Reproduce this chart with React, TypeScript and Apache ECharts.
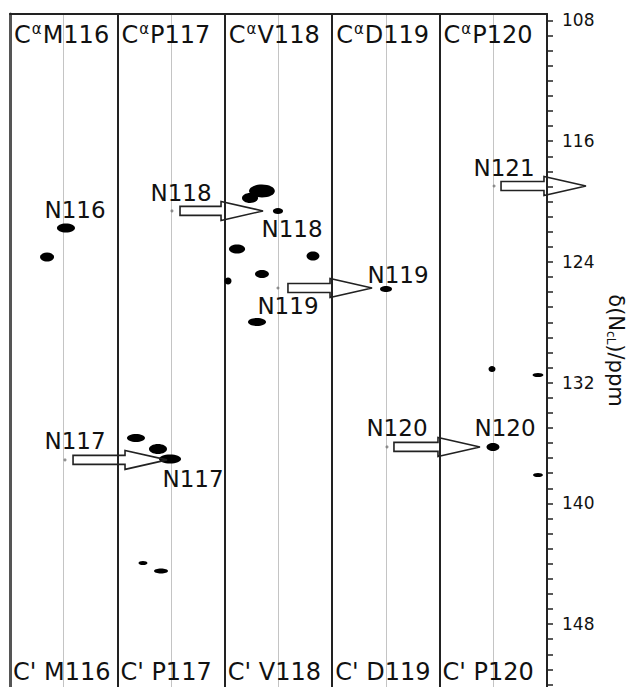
import React, { useEffect, useRef } from "react";
import * as echarts from "echarts";

// Strip residues (top: Cα planes, bottom: C' planes)
const residues = ["M116", "P117", "V118", "D119", "P120"];

// 15N axis tick marks and labels (ppm)
const yTickLabels = [108, 116, 124, 132, 140, 148];
const yTicks = [
  108, 109, 110, 111, 112, 113, 114, 115, 116, 117, 118, 119, 120, 121, 122, 123,
  124, 125, 126, 127, 128, 129, 130, 131, 132, 133, 134, 135, 136, 137, 138, 139,
  140, 141, 142, 143, 144, 145, 146, 147, 148, 149, 150, 151, 152,
];

// Cross peaks: position across the strips (strip i spans i..i+1), 15N shift (ppm),
// width across the strip (strip units), 15N linewidth (ppm)
const peakX = [0.521, 0.345, 2.235, 2.346, 2.495, 2.114, 2.821, 2.346, 2.03, 2.3, 1.173, 1.378, 1.49, 1.238, 1.406, 3.501, 4.488, 4.916, 4.497, 4.916];
const peakN = [121.75, 123.67, 119.76, 119.3, 120.62, 123.14, 123.61, 124.8, 125.26, 127.98, 135.67, 136.4, 137.06, 143.95, 144.48, 125.79, 131.09, 131.49, 136.26, 138.12];
const peakWX = [0.168, 0.13, 0.15, 0.24, 0.095, 0.15, 0.12, 0.13, 0.065, 0.168, 0.168, 0.168, 0.205, 0.084, 0.13, 0.112, 0.065, 0.102, 0.121, 0.093];
const peakWN = [0.6, 0.6, 0.66, 0.86, 0.4, 0.6, 0.6, 0.53, 0.46, 0.53, 0.53, 0.66, 0.6, 0.27, 0.33, 0.4, 0.4, 0.27, 0.53, 0.27];

// Sequential-walk origins (grey dots) and arrows
const originX = [0.512, 1.508, 2.495, 3.51, 4.507];
const originN = [137.12, 120.62, 125.73, 136.26, 118.97];
const arrowFromX = [0.587, 1.583, 2.588, 3.575, 4.572];
const arrowToX = [1.462, 2.356, 3.371, 4.376, 5.363];
const arrowN = [137.12, 120.62, 125.73, 136.26, 118.97];

// Assignment labels
const labelText = ["N116", "N118", "N118", "N119", "N119", "N121", "N117", "N117", "N120", "N120"];
const labelX = [0.605, 1.592, 2.626, 2.588, 3.613, 4.6, 0.605, 1.704, 3.603, 4.609];
const labelN = [120.56, 119.43, 121.82, 126.92, 124.87, 117.77, 135.87, 138.38, 135.01, 135.01];

const FONT = "DejaVu Sans";
const INK = "#111111";

export default function App() {
  const ref = useRef<HTMLDivElement>(null);

  useEffect(() => {
    const chart = echarts.init(ref.current as HTMLDivElement, null, { renderer: "svg" });
    const yMin = 107.57;
    const yMax = 152.17;

    chart.setOption({
      animation: false,
      backgroundColor: "#ffffff",
      grid: {
        left: 10,
        right: 81,
        top: 14,
        bottom: 0,
        containLabel: false,
        outerBoundsMode: "none",
      },
      xAxis: [
        {
          type: "value",
          min: 0,
          max: 5,
          interval: 1,
          position: "bottom",
          axisLine: { show: false, onZero: false },
          axisTick: { show: false },
          axisLabel: {
            inside: true,
            align: "left",
            margin: 3,
            padding: [0, 0, 0, 3],
            fontSize: 24,
            fontFamily: FONT,
            color: INK,
            formatter: (v: number) => (v < 5 ? `C' ${residues[Math.round(v)]}` : ""),
          },
          splitLine: { show: true, lineStyle: { color: "#222", width: 2 } },
          minorTick: { show: false, splitNumber: 2 },
          minorSplitLine: { show: true, lineStyle: { color: "#c4c4c4", width: 1 } },
        },
        {
          type: "value",
          min: 0,
          max: 5,
          interval: 1,
          position: "top",
          axisLine: { show: true, onZero: false, lineStyle: { color: "#222", width: 2 } },
          axisTick: { show: false },
          splitLine: { show: false },
          axisLabel: {
            inside: true,
            align: "left",
            margin: 7,
            padding: [0, 0, 0, 4],
            fontSize: 24,
            fontFamily: FONT,
            color: INK,
            formatter: (v: number) => (v < 5 ? `C{a|α}${residues[Math.round(v)]}` : ""),
            rich: {
              a: { fontSize: 15, fontFamily: FONT, color: INK, padding: [0, 1, 13, 1] },
            },
          },
        },
      ],
      yAxis: [
        {
          type: "value",
          position: "right",
          inverse: true,
          min: yMin,
          max: yMax,
          axisLine: { show: true, onZero: false, lineStyle: { color: "#222", width: 2 } },
          axisTick: {
            show: true,
            inside: false,
            length: 6,
            customValues: yTicks,
            lineStyle: { color: "#222", width: 1.5 },
          },
          axisLabel: {
            customValues: yTickLabels,
            margin: 15,
            fontSize: 17,
            fontFamily: FONT,
            color: INK,
          },
          splitLine: { show: false },
          name: "δ(N{s|cL})/ppm",
          nameLocation: "middle",
          nameRotate: -90,
          nameGap: 56,
          nameTextStyle: {
            fontSize: 21,
            fontFamily: FONT,
            color: INK,
            rich: { s: { fontSize: 12, fontFamily: FONT, color: INK, padding: [9, 0, 0, 0] } },
          },
        },
        {
          type: "value",
          position: "left",
          inverse: true,
          min: yMin,
          max: yMax,
          axisLine: { show: true, onZero: false, lineStyle: { color: "#555", width: 3 } },
          axisTick: { show: false },
          axisLabel: { show: false },
          splitLine: { show: false },
        },
      ],
      series: [
        {
          type: "custom",
          name: "peaks",
          xAxisIndex: 0,
          yAxisIndex: 0,
          z: 3,
          data: peakX.map((x, i) => [x, peakN[i], peakWX[i], peakWN[i]]),
          renderItem: (_p: any, api: any) => {
            const c = api.coord([api.value(0), api.value(1)]);
            const s = api.size([api.value(2), api.value(3)]);
            return {
              type: "ellipse",
              shape: { cx: c[0], cy: c[1], rx: Math.abs(s[0]) / 2, ry: Math.abs(s[1]) / 2 },
              style: { fill: "#000" },
            };
          },
        },
        {
          type: "custom",
          name: "arrows",
          xAxisIndex: 0,
          yAxisIndex: 0,
          z: 4,
          clip: false,
          data: arrowFromX.map((x, i) => [x, arrowToX[i], arrowN[i]]),
          renderItem: (_p: any, api: any) => {
            const t = api.coord([api.value(0), api.value(2)]);
            const p = api.coord([api.value(1), api.value(2)]);
            const y = t[1];
            const base = p[0] - 42;
            const sh = 4.5;
            const hh = 9.5;
            return {
              type: "polygon",
              shape: {
                points: [
                  [t[0], y - sh],
                  [base, y - sh],
                  [base, y - hh],
                  [p[0], y],
                  [base, y + hh],
                  [base, y + sh],
                  [t[0], y + sh],
                ],
              },
              style: { fill: "rgba(255,255,255,0)", stroke: "#222", lineWidth: 1.6 },
            };
          },
        },
        {
          type: "scatter",
          name: "origins",
          xAxisIndex: 0,
          yAxisIndex: 0,
          symbolSize: 3,
          itemStyle: { color: "#777" },
          z: 3,
          data: originX.map((x, i) => [x, originN[i]]),
        },
        {
          type: "custom",
          name: "labels",
          xAxisIndex: 0,
          yAxisIndex: 0,
          z: 5,
          clip: false,
          data: labelX.map((x, i) => [x, labelN[i], i]),
          renderItem: (_p: any, api: any) => {
            const c = api.coord([api.value(0), api.value(1)]);
            return {
              type: "text",
              x: c[0],
              y: c[1],
              style: {
                text: labelText[api.value(2)],
                fill: INK,
                fontSize: 23,
                fontFamily: FONT,
                align: "center",
                verticalAlign: "middle",
              },
            };
          },
        },
      ],
    });

    return () => chart.dispose();
  }, []);

  return (
    <div
      ref={ref}
      style={{ position: "fixed", left: 0, top: 0, width: 628, height: 687, background: "#fff" }}
    />
  );
}
